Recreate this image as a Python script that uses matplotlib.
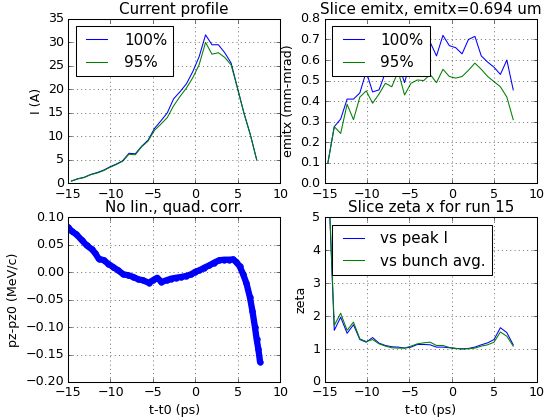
import numpy as np
import matplotlib
matplotlib.use("Agg")
import matplotlib.pyplot as plt

plt.style.use("classic")

# slice times (ps)
t = [-14.60, -13.85, -13.10, -12.34, -11.59, -10.84, -10.09, -9.34, -8.58, -7.83,
     -7.08, -6.33, -5.58, -4.82, -4.07, -3.32, -2.57, -1.82, -1.06, -0.31,
     0.44, 1.19, 1.94, 2.70, 3.45, 4.20, 4.95, 5.70, 6.46, 7.21]

cur_100 = [0.5, 1.0, 1.3, 1.9, 2.3, 2.8, 3.5, 4.1, 4.8, 6.4,
           6.3, 7.9, 9.2, 11.7, 13.3, 15.0, 18.0, 19.5, 21.2, 23.8,
           27.0, 31.6, 29.5, 29.5, 27.8, 25.6, 20.3, 15.0, 10.4, 5.0]
cur_95 = [0.5, 0.95, 1.25, 1.85, 2.2, 2.7, 3.4, 4.0, 4.7, 6.2,
          6.1, 7.8, 9.0, 11.3, 12.6, 14.0, 16.5, 18.5, 20.3, 22.5,
          25.3, 30.0, 27.5, 27.8, 26.8, 25.2, 20.2, 15.0, 10.3, 5.0]

emit_100 = [0.10, 0.276, 0.313, 0.41, 0.41, 0.44, 0.544, 0.445, 0.455, 0.54,
            0.54, 0.585, 0.49, 0.60, 0.62, 0.65, 0.687, 0.62, 0.72, 0.67,
            0.66, 0.63, 0.70, 0.715, 0.62, 0.59, 0.565, 0.53, 0.60, 0.455]
emit_95 = [0.10, 0.276, 0.243, 0.385, 0.31, 0.42, 0.45, 0.39, 0.435, 0.487,
           0.47, 0.545, 0.43, 0.487, 0.503, 0.50, 0.53, 0.49, 0.555, 0.52,
           0.512, 0.52, 0.55, 0.585, 0.555, 0.52, 0.495, 0.47, 0.42, 0.31]

zeta_peak = [6.5, 1.57, 1.97, 1.48, 1.74, 1.29, 1.21, 1.35, 1.18, 1.11,
             1.07, 1.06, 1.03, 1.06, 1.14, 1.14, 1.13, 1.06, 1.06, 1.04,
             1.02, 1.01, 1.02, 1.06, 1.13, 1.19, 1.29, 1.65, 1.50, 1.13]
zeta_avg = [6.6, 1.72, 2.09, 1.57, 1.82, 1.31, 1.23, 1.29, 1.16, 1.09,
            1.04, 1.03, 1.03, 1.09, 1.16, 1.19, 1.21, 1.11, 1.11, 1.05,
            1.02, 1.00, 1.01, 1.03, 1.09, 1.13, 1.21, 1.52, 1.39, 1.09]

# longitudinal phase space (no lin./quad. correction)
t_pz = [-15.0, -14.57, -14.0, -13.4, -12.8, -12.2, -11.8, -11.4, -10.8, -10.3,
        -9.7, -9.1, -8.5, -7.9, -7.3, -6.75, -6.2, -5.5, -5.0, -4.5,
        -4.0, -3.4, -2.85, -2.3, -1.7, -1.1, -0.5, 0.0, 0.47, 1.05,
        1.64, 2.2, 2.8, 3.4, 4.0, 4.4, 4.8, 5.2, 5.6, 6.0,
        6.4, 6.7, 7.0, 7.2, 7.4, 7.6]
pz = [0.0824, 0.075, 0.069, 0.059, 0.049, 0.042, 0.035, 0.025, 0.022, 0.016,
      0.0097, 0.0036, -0.0036, -0.0055, -0.0085, -0.0127, -0.0145, -0.019, -0.0145, -0.010,
      -0.0176, -0.0145, -0.0115, -0.010, -0.0085, -0.0067, -0.0036, 0.0012, 0.0036, 0.0085,
      0.0127, 0.0176, 0.022, 0.023, 0.023, 0.0236, 0.019, 0.011, -0.003, -0.020,
      -0.045, -0.070, -0.100, -0.122, -0.140, -0.163]

dpi = 75.6
fig = plt.figure(figsize=(544 / dpi, 420 / dpi), dpi=dpi)
fig.subplots_adjust(left=0.125, right=0.987, bottom=0.0905, top=0.955,
                    wspace=0.2075, hspace=0.207)

ax1 = fig.add_subplot(2, 2, 1)
ax1.plot(t, cur_100, 'b-', label='100%')
ax1.plot(t, cur_95, 'g-', label='95%')
ax1.set_xlim(-15, 10)
ax1.set_ylim(0, 35)
ax1.set_ylabel('I (A)')
ax1.set_title('Current profile')
ax1.grid(True)
ax1.legend(loc='upper left')

ax2 = fig.add_subplot(2, 2, 2)
ax2.plot(t, emit_100, 'b-', label='100%')
ax2.plot(t, emit_95, 'g-', label='95%')
ax2.set_xlim(-15, 10)
ax2.set_ylim(0, 0.8)
ax2.set_ylabel('emitx (mm-mrad)')
ax2.set_title('Slice emitx, emitx=0.694 um')
ax2.grid(True)
ax2.legend(loc='upper left')

ax3 = fig.add_subplot(2, 2, 3)
ax3.plot(t_pz, pz, 'b-', lw=6, solid_capstyle='round', solid_joinstyle='round')
ax3.plot(t_pz, pz, 'b.', ms=11)
ax3.set_xlim(-15, 10)
ax3.set_ylim(-0.20, 0.10)
ax3.set_xlabel('t-t0 (ps)')
ax3.set_ylabel('pz-pz0 (MeV/c)')
ax3.set_title('No lin., quad. corr.')
ax3.grid(True)

ax4 = fig.add_subplot(2, 2, 4)
ax4.plot(t, zeta_peak, 'b-', label='vs peak I')
ax4.plot(t, zeta_avg, 'g-', label='vs bunch avg.')
ax4.set_xlim(-15, 10)
ax4.set_ylim(0, 5)
ax4.set_xlabel('t-t0 (ps)')
ax4.set_ylabel('zeta')
ax4.set_title('Slice zeta x for run 15')
ax4.grid(True)
ax4.legend(loc='upper left')

fig.savefig('out.png', dpi=dpi, facecolor='white')
